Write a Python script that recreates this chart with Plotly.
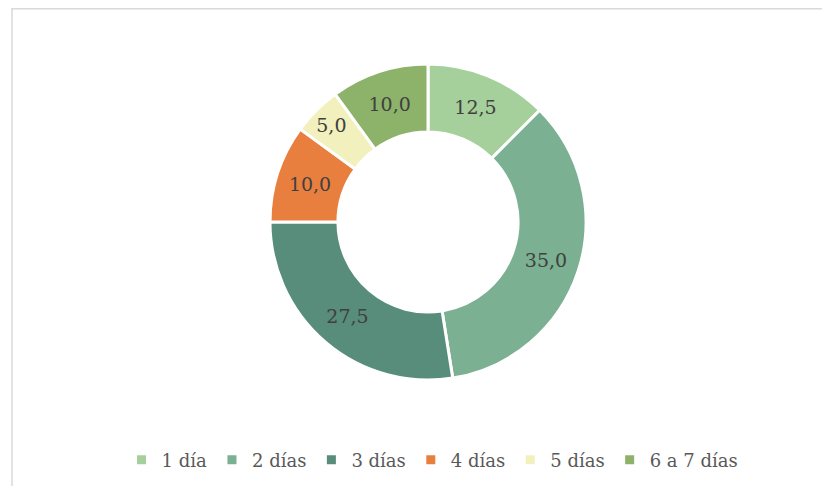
import plotly.graph_objects as go

categories = ["1 día", "2 días", "3 días", "4 días", "5 días", "6 a 7 días"]
values = [12.5, 35.0, 27.5, 10.0, 5.0, 10.0]
value_labels = ["12,5", "35,0", "27,5", "10,0", "5,0", "10,0"]
colors = ["#A6D09B", "#7BB092", "#578D7A", "#E97F3F", "#F2F0BC", "#8CB369"]

# page has an 8px body margin; figure coordinates are page minus 8
W, H = 814, 478
cx, cy, r = 420, 214, 158

fig = go.Figure(go.Pie(
    labels=categories,
    values=values,
    text=value_labels,
    textinfo="text",
    textposition="inside",
    insidetextorientation="horizontal",
    sort=False,
    direction="clockwise",
    rotation=0,
    hole=0.57,
    marker=dict(colors=colors, line=dict(color="white", width=3)),
    textfont=dict(family="DejaVu Serif", size=19, color="#404040"),
    domain=dict(x=[(cx - r) / W, (cx + r) / W], y=[(H - cy - r) / H, (H - cy + r) / H]),
    hoverinfo="label+value",
))

border = dict(color="#D9D9D9", width=1.5)
fig.update_layout(
    width=W, height=H,
    margin=dict(l=0, r=0, t=0, b=0),
    paper_bgcolor="white",
    plot_bgcolor="white",
    showlegend=True,
    legend=dict(
        orientation="h",
        x=424.5 / W, xanchor="center",
        y=(H - 452) / H, yanchor="middle",
        font=dict(family="DejaVu Serif", size=18, color="#595959"),
        itemwidth=30,
        tracegroupgap=0,
    ),
    shapes=[
        dict(type="line", xref="paper", yref="paper",
             x0=4 / W, x1=1.0, y0=1.0 - 0.75 / H, y1=1.0 - 0.75 / H, line=border),
        dict(type="line", xref="paper", yref="paper",
             x0=4 / W, x1=4 / W, y0=0.0, y1=1.0, line=border),
    ],
)

fig.write_html("out.html")
